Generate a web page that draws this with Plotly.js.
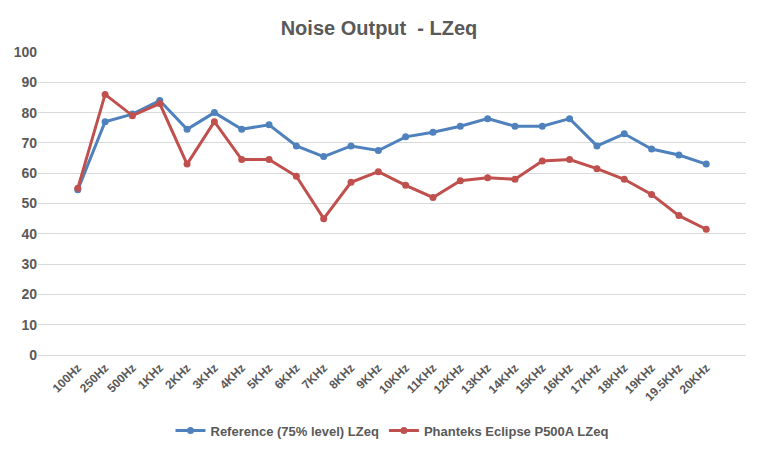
<!DOCTYPE html>
<html>
<head>
<meta charset="utf-8">
<script src="https://cdn.plot.ly/plotly-3.0.1.min.js"></script>
<style>body{margin:0;}#chart{width:758px;height:458px;}</style>
</head>
<body>
<div id="chart"></div>
<script>
var freqs = ['100Hz','250Hz','500Hz','1KHz','2KHz','3KHz','4KHz','5KHz','6KHz','7KHz','8KHz','9KHz','10KHz','11KHz','12KHz','13KHz','14KHz','15KHz','16KHz','17KHz','18KHz','19KHz','19.5KHz','20KHz'];
var refLevel = [54.5,77,79.5,84,74.5,80,74.5,76,69,65.5,69,67.5,72,73.5,75.5,78,75.5,75.5,78,69,73,68,66,63];
var p500a = [55,86,79,83,63,77,64.5,64.5,59,45,57,60.5,56,52,57.5,58.5,58,64,64.5,61.5,58,53,46,41.5];

var trace1 = {
  x: freqs, y: refLevel, name: 'Reference (75% level) LZeq',
  type: 'scatter', mode: 'lines+markers',
  line: {color: '#4F81BD', width: 3},
  marker: {color: '#4F81BD', size: 7}
};
var trace2 = {
  x: freqs, y: p500a, name: 'Phanteks Eclipse P500A LZeq',
  type: 'scatter', mode: 'lines+markers',
  line: {color: '#C0504D', width: 3},
  marker: {color: '#C0504D', size: 7}
};

var layout = {
  width: 758, height: 458,
  margin: {l: 38, r: 12, t: 52, b: 87},
  paper_bgcolor: '#fff', plot_bgcolor: '#fff',
  font: {family: 'Liberation Sans, Arial, sans-serif', color: '#595959'},
  title: {text: '<b>Noise Output  - LZeq</b>', x: 0.5, y: 0.955, font: {size: 20, color: '#595959'}},
  showlegend: true,
  legend: {orientation: 'h', x: 0.5, xanchor: 'center', y: -0.2, yanchor: 'top', font: {size: 13, color: '#595959', weight: 'bold'}},
  xaxis: {
    tickangle: -45, tickfont: {size: 12, color: '#595959', weight: 'bold'}, automargin: false,
    showgrid: false, showline: true, linecolor: '#d9d9d9', ticks: '', fixedrange: true
  },
  yaxis: {
    range: [0, 100], dtick: 10, tickfont: {size: 14, color: '#595959', weight: 'bold'}, automargin: false,
    gridcolor: '#d9d9d9', zeroline: false, showline: false, ticks: '', fixedrange: true
  }
};

Plotly.newPlot('chart', [trace1, trace2], layout, {displayModeBar: false});
</script>
</body>
</html>
